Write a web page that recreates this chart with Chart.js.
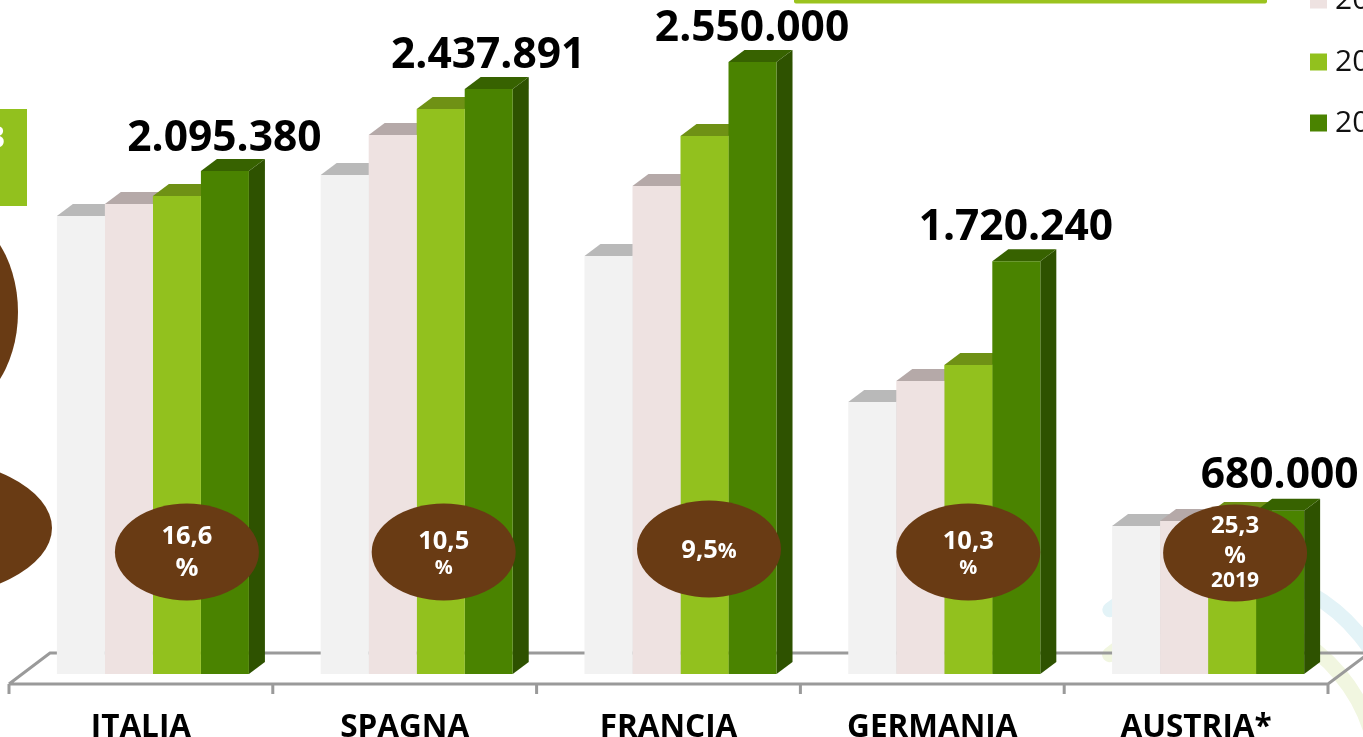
<!DOCTYPE html>
<html>
<head>
<meta charset="utf-8">
<style>html,body{margin:0;padding:0;background:#fff;overflow:hidden}canvas{display:block}</style>
<script src="https://cdn.jsdelivr.net/npm/chart.js@4"></script>
</head>
<body>
<canvas id="c" width="1363" height="737"></canvas>
<script>
const categories = ['ITALIA', 'SPAGNA', 'FRANCIA', 'GERMANIA', 'AUSTRIA*'];
const seriesNames = ['2016', '2017', '2018', '2019'];
const values2016 = [1908000, 2079000, 1742000, 1133000, 617000];
const values2017 = [1958000, 2246000, 2033000, 1221000, 637000];
const values2018 = [1992000, 2354000, 2242000, 1288000, 667000];
const values2019 = [2095380, 2437891, 2550000, 1720240, 680000];
const badgeTexts = [
  [['16,6', 25.5], ['%', 25.5]],
  [['10,5', 25.5], ['%', 20]],
  [['9,5', 25.5, '%', 21]],
  [['10,3', 25.5], ['%', 20]],
  [['25,3', 24], ['%', 24], ['2019', 21]]
];

const FONT = '"Open Sans"';
const frontColors = ['#F2F2F2', '#EEE2E1', '#92C11E', '#4A8300'];
const topColors   = ['#B9B9B9', '#B5A9A8', '#6F9115', '#376200'];
const sideColors  = ['#C2C2C2', '#BEB4B3', '#739A18', '#2E5200'];
const DEPTH_X = 16, DEPTH_Y = 12;
const valueFormat = new Intl.NumberFormat('de-DE');

function ellipse(ctx, x, y, rx, ry, fill) {
  ctx.fillStyle = fill;
  ctx.beginPath();
  ctx.ellipse(x, y, rx, ry, 0, 0, Math.PI * 2);
  ctx.fill();
}

const scene = {
  id: 'scene',
  beforeDatasetsDraw(chart) {
    const ctx = chart.ctx;
    const x = chart.scales.x, a = chart.chartArea;
    ctx.save();
    // faint background arcs
    ctx.lineCap = 'round';
    ctx.lineWidth = 15;
    ctx.strokeStyle = '#E3F3F7';
    ctx.beginPath();
    ctx.arc(1222, 748, 178, Math.PI * 1.283, Math.PI * 1.9);
    ctx.stroke();
    ctx.strokeStyle = '#F1F6E0';
    ctx.beginPath();
    ctx.arc(1215, 779, 163, Math.PI * 1.276, Math.PI * 1.95);
    ctx.stroke();

    // floor frame
    const step = x.getPixelForValue(1) - x.getPixelForValue(0);
    const frontLeft = x.getPixelForValue(0) - step / 2 - 12;
    const frontRight = frontLeft + step * categories.length;
    const frontY = a.bottom + 10, backY = a.bottom - 21;
    ctx.strokeStyle = '#9A9A9A';
    ctx.lineWidth = 3;
    ctx.lineCap = 'butt';
    ctx.beginPath();
    ctx.moveTo(frontLeft, frontY);
    ctx.lineTo(frontRight, frontY);
    ctx.lineTo(frontRight + 41, frontY - 31);
    ctx.moveTo(frontLeft, frontY);
    ctx.lineTo(frontLeft + 41, backY);
    ctx.lineTo(frontRight + 41, backY);
    for (let i = 0; i <= categories.length; i++) {
      const tx = frontLeft + step * i;
      ctx.moveTo(tx, frontY);
      ctx.lineTo(tx, frontY + 10);
    }
    ctx.stroke();

    // 3D tops and sides, fronts are the bars themselves
    chart.data.datasets.forEach((ds, d) => {
      chart.getDatasetMeta(d).data.forEach(bar => {
        const l = bar.x - bar.width / 2, r = bar.x + bar.width / 2;
        ctx.fillStyle = sideColors[d];
        ctx.beginPath();
        ctx.moveTo(r, bar.y);
        ctx.lineTo(r + DEPTH_X, bar.y - DEPTH_Y);
        ctx.lineTo(r + DEPTH_X, bar.base - DEPTH_Y);
        ctx.lineTo(r, bar.base);
        ctx.closePath();
        ctx.fill();
        ctx.fillStyle = topColors[d];
        ctx.beginPath();
        ctx.moveTo(l, bar.y);
        ctx.lineTo(l + DEPTH_X, bar.y - DEPTH_Y);
        ctx.lineTo(r + DEPTH_X, bar.y - DEPTH_Y);
        ctx.lineTo(r, bar.y);
        ctx.closePath();
        ctx.fill();
      });
    });
    ctx.restore();
  },
  afterDatasetsDraw(chart) {
    const ctx = chart.ctx;
    const last = chart.data.datasets.length - 1;
    const lastBars = chart.getDatasetMeta(last).data;
    const lastValues = chart.data.datasets[last].data;
    ctx.save();

    // value labels over the last series
    ctx.fillStyle = '#000';
    ctx.font = 'bold 42.5px ' + FONT;
    ctx.textAlign = 'center';
    ctx.textBaseline = 'alphabetic';
    const lift = [20, 21, 21, 21, 23];
    lastBars.forEach((bar, i) => {
      ctx.fillText(valueFormat.format(lastValues[i]), bar.x - 0.5, bar.y - lift[i]);
    });

    // percentage badges
    const bx = [34, 27, 28.5, 24, 27];
    const by = [552, 552, 549, 552, 553];
    const lineY = [[-15, 17], [-10, 16], [2], [-10, 16], [-27, 3, 28]];
    const x = chart.scales.x;
    badgeTexts.forEach((lines, i) => {
      const cx = x.getPixelForValue(i) + bx[i], cy = by[i];
      ellipse(ctx, cx, cy, 72, 48.5, '#693B14');
      ctx.fillStyle = '#fff';
      lines.forEach((ln, k) => {
        const y = cy + lineY[i][k];
        ctx.textBaseline = 'middle';
        if (ln[2]) {
          ctx.font = 'bold ' + ln[1] + 'px ' + FONT;
          const w1 = ctx.measureText(ln[0]).width;
          ctx.font = 'bold ' + ln[3] + 'px ' + FONT;
          const w2 = ctx.measureText(ln[2]).width;
          ctx.textAlign = 'left';
          ctx.font = 'bold ' + ln[1] + 'px ' + FONT;
          ctx.fillText(ln[0], cx - (w1 + w2) / 2, y);
          ctx.font = 'bold ' + ln[3] + 'px ' + FONT;
          ctx.fillText(ln[2], cx - (w1 + w2) / 2 + w1, y + 1);
        } else {
          ctx.textAlign = 'center';
          ctx.font = 'bold ' + ln[1] + 'px ' + FONT;
          ctx.fillText(ln[0], cx, y);
        }
      });
    });

    // cropped slide elements around the chart
    ellipse(ctx, -55, 312, 73, 102, '#693B14');
    ellipse(ctx, -92, 528, 144, 72, '#693B14');
    ctx.fillStyle = '#92C11E';
    ctx.fillRect(0, 109, 27, 97);
    ctx.fillStyle = '#fff';
    ctx.font = 'bold 30px ' + FONT;
    ctx.textAlign = 'right';
    ctx.textBaseline = 'middle';
    ctx.fillText('3', 5, 139);
    ctx.fillStyle = '#9BC31F';
    ctx.beginPath();
    ctx.roundRect(794, -6, 473, 9.5, 2);
    ctx.fill();

    // legend, cut by the page edge
    const legendY = [0, 62, 123];
    ctx.textAlign = 'left';
    ctx.textBaseline = 'middle';
    ctx.font = '30px ' + FONT;
    const shown = chart.data.datasets.slice(1);
    shown.forEach((ds, i) => {
      ctx.fillStyle = ds.backgroundColor;
      ctx.fillRect(1310, legendY[i] - 8.5, 17, 17);
      ctx.fillStyle = '#111';
      ctx.fillText(ds.label, 1335, legendY[i]);
    });
    ctx.restore();
  }
};

new Chart(document.getElementById('c'), {
  type: 'bar',
  data: {
    labels: categories,
    datasets: [values2016, values2017, values2018, values2019].map((v, i) => ({
      label: seriesNames[i],
      data: v,
      backgroundColor: frontColors[i],
      borderWidth: 0
    }))
  },
  options: {
    responsive: false,
    animation: false,
    devicePixelRatio: 1,
    datasets: { bar: { categoryPercentage: 0.728, barPercentage: 1 } },
    layout: { padding: { left: 21, right: 23, top: 2, bottom: 0 } },
    plugins: { legend: { display: false }, tooltip: { enabled: false } },
    scales: {
      x: {
        grid: { display: false },
        border: { display: false },
        ticks: {
          color: '#000',
          font: { family: FONT, size: 31.5, weight: 'bold' },
          labelOffset: -12,
          padding: 27,
          maxRotation: 0,
          autoSkip: false
        },
        afterFit(s) { s.height = 63; }
      },
      y: {
        display: false,
        min: 0,
        max: 2800000
      }
    }
  },
  plugins: [scene]
});
</script>
</body>
</html>
